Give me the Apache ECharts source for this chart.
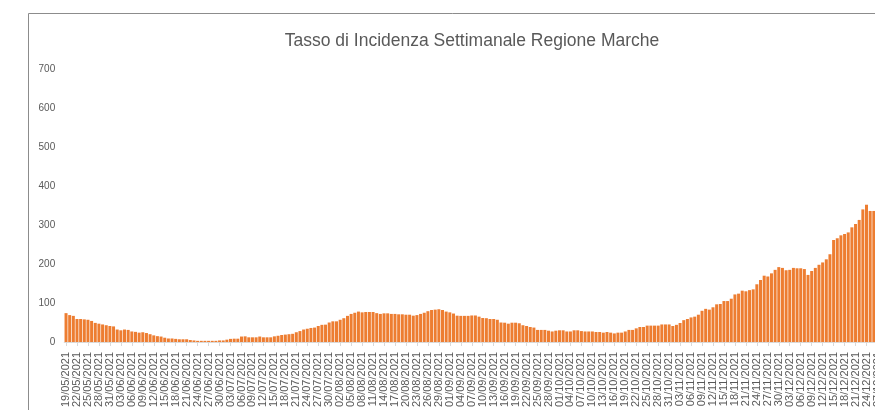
<!DOCTYPE html>
<html>
<head>
<meta charset="utf-8">
<script src="https://cdn.jsdelivr.net/npm/echarts@6/dist/echarts.min.js"></script>
<style>
html,body{margin:0;padding:0;background:#fff;}
#chart{width:875px;height:410px;}
</style>
</head>
<body>
<div id="chart"></div>
<script>
// Title
const chartTitle = 'Tasso di Incidenza Settimanale Regione Marche';

// Categories: daily dates from 19/05/2021 to 27/12/2021
const startDate = [2021, 5, 19];
const endDate = [2021, 12, 27];
const categories = [];
(function(){
  const d = new Date(startDate[0], startDate[1]-1, startDate[2]);
  const e = new Date(endDate[0], endDate[1]-1, endDate[2]);
  while (d <= e) {
    const dd = String(d.getDate()).padStart(2,'0');
    const mm = String(d.getMonth()+1).padStart(2,'0');
    categories.push(dd + '/' + mm + '/' + d.getFullYear());
    d.setDate(d.getDate()+1);
  }
})();

// Weekly incidence values
const incidenza = [
  74,69,67,59,59,58,57,54,49,47,
  45,43,41,40,32,30,32,31,27,26,
  24,25,23,20,17,15,14,11,9,9,
  8,7,7,7,5,4,3,3,3,3,
  3,3,4,4,6,8,8.5,8.5,14,14.5,
  12,12,12,14,12,12,12,14.5,16,18,
  19,20,21,25,28,32,34,36,37,41,
  44,44.5,50,53,53,57,61,67,72,75,
  78,76,77,77,77,74,72,73.5,73.5,72,
  72,71,71,70,70,67.5,69,72,75,79,
  82,83,84,82,78,76,73,67.5,67,67,
  67,68,68,65,61.5,61,59,59,57,50,
  49.5,47,49.5,49.5,48,43,41,38.5,37,31,
  31,31,29,27,29,30,30,27,27,30,
  30,28,27,27,27,25.6,25.6,24,25.6,24,
  22,24,24,27,31,31,35,38.5,38.5,42,
  42,42,42,45,45,45,41,44,48.7,56,
  59,63,65,70,80,85,83,89,96.6,97.4,
  105,105,111,122,124,131.6,130,133,135,148,
  159,170,168,176,185,192,190,184,185,190,
  189,189,187,172,182,190,198,204,212,225,
  261.5,266,273.5,277,281,294,302.6,313,340,352,
  336,336
];

// Y axis ticks
const yMin = 0, yMax = 700, yStep = 100;

const chart = echarts.init(document.getElementById('chart'), null, {renderer:'canvas'});
const txt = '#595959';
const font = 'Liberation Sans, Arial, sans-serif';

chart.setOption({
  backgroundColor: '#ffffff',
  animation: false,
  graphic: [
    {
      type: 'rect', silent: true, z: 0,
      shape: {x: 28.5, y: 13.5, width: 900, height: 450},
      style: {fill: 'none', stroke: '#8c8c8c', lineWidth: 1}
    },
    {
      type: 'text', silent: true, z: 10,
      x: 472, y: 41,
      style: {
        text: chartTitle, fill: txt, fontSize: 17.5, fontFamily: font,
        align: 'center', verticalAlign: 'middle'
      }
    }
  ],
  grid: {left: 64.2, top: 69, width: 815.1, height: 273, outerBoundsMode: 'none', containLabel: false},
  xAxis: {
    type: 'category',
    data: categories,
    boundaryGap: true,
    axisLine: {show: true, lineStyle: {color: '#d9d9d9', width: 1}},
    axisTick: {show: true, interval: 2, alignWithLabel: true, length: 4, lineStyle: {color: '#d9d9d9'}},
    axisLabel: {interval: 2, rotate: 90, color: txt, fontSize: 11, fontFamily: font, margin: 10, hideOverlap: false},
    splitLine: {show: false}
  },
  yAxis: {
    type: 'value',
    min: yMin, max: yMax, interval: yStep,
    axisLine: {show: false},
    axisTick: {show: false},
    splitLine: {show: false},
    axisLabel: {color: txt, fontSize: 10, fontFamily: font, margin: 9}
  },
  series: [{
    type: 'bar',
    data: incidenza,
    barCategoryGap: '18%',
    itemStyle: {color: '#ED7D31'}
  }]
});
</script>
</body>
</html>
